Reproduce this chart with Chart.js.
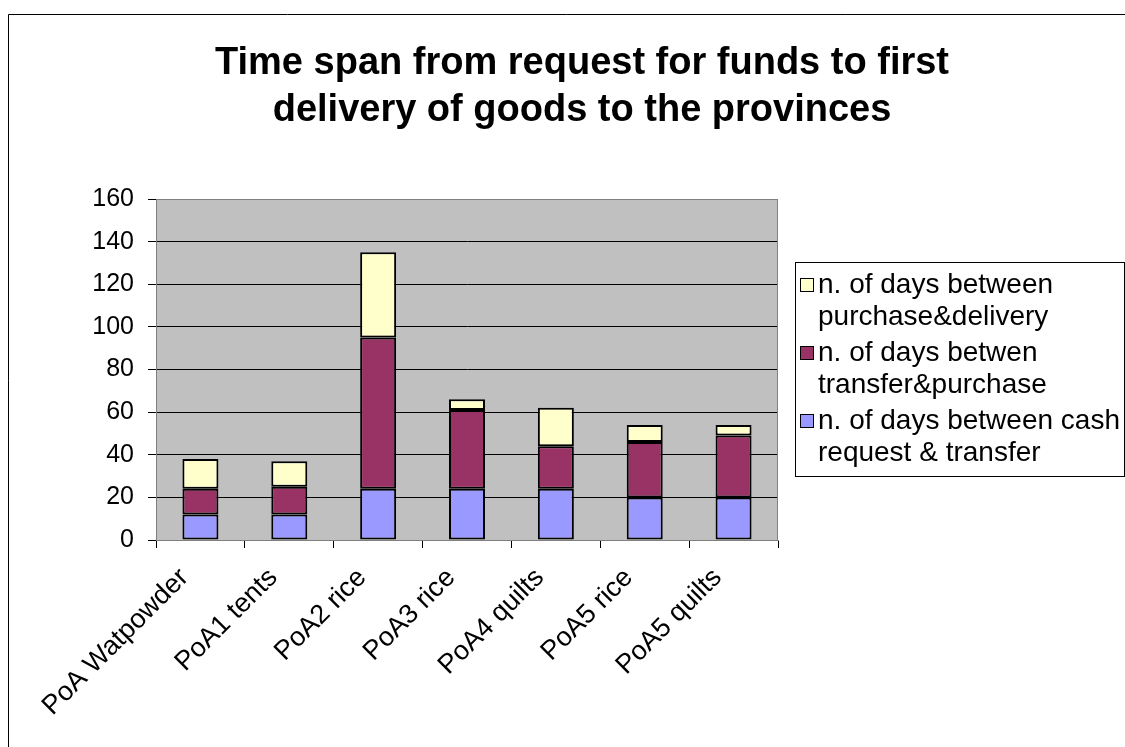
<!DOCTYPE html>
<html>
<head>
<meta charset="utf-8">
<script src="https://cdn.jsdelivr.net/npm/chart.js@4.4.1/dist/chart.umd.min.js"></script>
<style>
  html, body { margin: 0; padding: 0; background: #fff; }
  #wrap { width: 1125px; height: 747px; }
</style>
</head>
<body>
<div id="wrap"><canvas id="myChart" width="1125" height="747"></canvas></div>
<script>
// Dati
const categories = ["PoA Watpowder", "PoA1 tents", "PoA2 rice", "PoA3 rice", "PoA4 quilts", "PoA5 rice", "PoA5 quilts"];
const cashToTransfer = [12, 12, 24, 24, 24, 20, 20];
const transferToPurchase = [12, 13, 71, 37, 20, 26, 29];
const purchaseToDelivery = [14, 12, 40, 5, 18, 8, 5];
const yTicks = [0, 20, 40, 60, 80, 100, 120, 140, 160];
const titleLines = ["Time span from request for funds to first", "delivery of goods to the provinces"];
const seriesLabels = [
  "n. of days between cash\nrequest & transfer",
  "n. of days betwen\ntransfer&purchase",
  "n. of days between\npurchase&delivery"
];
const seriesColors = ["#9999FF", "#993366", "#FFFFCC"];

const FONT = "Arial, 'Liberation Sans', sans-serif";

// sfondo, cornice, titolo e legenda
const excelLook = {
  id: "excelLook",
  beforeDraw(chart) {
    const { ctx, chartArea: a } = chart;
    ctx.save();
    ctx.fillStyle = "#fff";
    ctx.fillRect(0, 0, chart.width, chart.height);
    ctx.fillStyle = "#C0C0C0";
    ctx.fillRect(a.left, a.top, a.right - a.left, a.bottom - a.top);
    ctx.restore();
  },
  afterDraw(chart) {
    const { ctx, chartArea: a } = chart;
    ctx.save();
    // bordo esterno
    ctx.strokeStyle = "#000";
    ctx.lineWidth = 1;
    ctx.beginPath();
    ctx.moveTo(8.5, chart.height);
    ctx.lineTo(8.5, 14.5);
    ctx.lineTo(chart.width, 14.5);
    ctx.stroke();
    // bordo area grafico
    ctx.strokeStyle = "#808080";
    ctx.beginPath();
    ctx.moveTo(a.left, a.top + 0.5);
    ctx.lineTo(a.right - 0.5, a.top + 0.5);
    ctx.lineTo(a.right - 0.5, a.bottom);
    ctx.stroke();
    // titolo
    ctx.fillStyle = "#000";
    ctx.font = "bold 38px " + FONT;
    ctx.textAlign = "center";
    ctx.textBaseline = "alphabetic";
    titleLines.forEach((t, i) => ctx.fillText(t, 582, 74 + i * 47));
    // legenda
    ctx.strokeStyle = "#000";
    ctx.strokeRect(795.5, 262.5, 329, 214);
    ctx.font = "28px " + FONT;
    ctx.textAlign = "left";
    ctx.textBaseline = "middle";
    const ds = chart.data.datasets.slice().reverse();
    ds.forEach((d, i) => {
      const y = 285 + i * 68;
      ctx.fillStyle = d.backgroundColor;
      ctx.fillRect(800, y - 7, 14, 14);
      ctx.strokeRect(800.5, y - 6.5, 13, 13);
      ctx.fillStyle = "#000";
      d.label.split("\n").forEach((line, j) => ctx.fillText(line, 818, y + j * 32));
    });
    ctx.restore();
  }
};

new Chart("myChart", {
  type: "bar",
  data: {
    labels: categories,
    datasets: [{
      label: seriesLabels[0],
      data: cashToTransfer,
      backgroundColor: seriesColors[0]
    }, {
      label: seriesLabels[1],
      data: transferToPurchase,
      backgroundColor: seriesColors[1]
    }, {
      label: seriesLabels[2],
      data: purchaseToDelivery,
      backgroundColor: seriesColors[2]
    }]
  },
  options: {
    responsive: false,
    animation: false,
    maintainAspectRatio: false,
    layout: { padding: { top: 199, right: 347, left: 0, bottom: 0 } },
    datasets: {
      bar: {
        borderColor: "#000",
        borderWidth: 2,
        borderSkipped: false,
        categoryPercentage: 1,
        barPercentage: 0.405
      }
    },
    plugins: {
      legend: { display: false },
      title: { display: false },
      tooltip: { enabled: false }
    },
    scales: {
      x: {
        stacked: true,
        afterFit(axis) { axis.height = 207; },
        grid: {
          offset: true,
          drawOnChartArea: false,
          tickLength: 8,
          tickColor: "#000"
        },
        border: { color: "#808080" },
        ticks: {
          autoSkip: false,
          maxRotation: 45,
          minRotation: 45,
          padding: 14,
          labelOffset: -16,
          color: "#000",
          font: { family: FONT, size: 27 }
        }
      },
      y: {
        stacked: true,
        min: 0,
        max: 160,
        afterFit(axis) { axis.width = 156; },
        afterBuildTicks(axis) { axis.ticks = yTicks.map(v => ({ value: v })); },
        grid: {
          color: ctx => (ctx.tick && ctx.tick.value === 160 ? "#808080" : "#000"),
          tickColor: "#000",
          tickLength: 8
        },
        border: { color: "#808080" },
        ticks: {
          padding: 14,
          color: "#000",
          font: { family: FONT, size: 25 }
        }
      }
    }
  },
  plugins: [excelLook]
});
</script>
</body>
</html>
